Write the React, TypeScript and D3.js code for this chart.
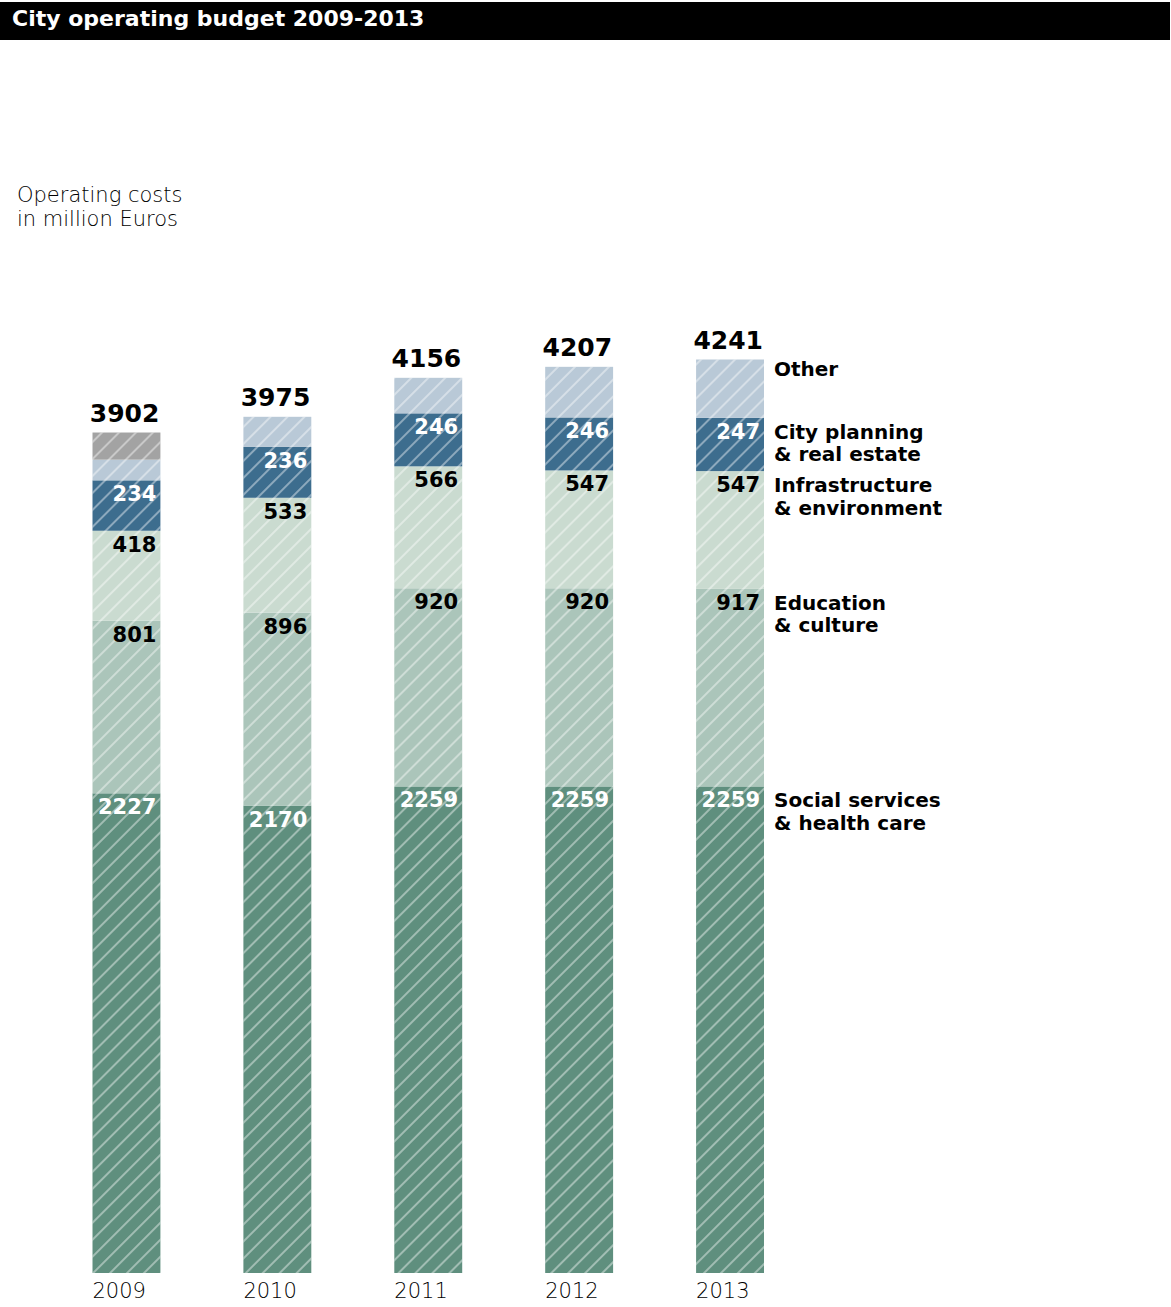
import React from "react";
import * as d3 from "d3";

const years = ["2009", "2010", "2011", "2012", "2013"];
const social = [2227, 2170, 2259, 2259, 2259];
const education = [801, 896, 920, 920, 917];
const infrastructure = [418, 533, 566, 547, 547];
const cityPlanning = [234, 236, 246, 246, 247];
const other = [96, 140, 165, 235, 271];
const otherGrey = [126, 0, 0, 0, 0];
const totals = [3902, 3975, 4156, 4207, 4241];

const seriesKeys = ["social", "education", "infrastructure", "cityPlanning", "other", "otherGrey"];
const seriesColors = ["#5f8f7e", "#abc5ba", "#cadbd0", "#3d6d8e", "#b9c9d7", "#a3a3a3"];
const labelColors = ["#ffffff", "#000000", "#000000", "#ffffff", null, null];
const legendLines = [
  ["Social services", "& health care"],
  ["Education", "& culture"],
  ["Infrastructure", "& environment"],
  ["City planning", "& real estate"],
  ["Other"],
  null,
];

const W = 1171;
const H = 1307;

export default function App() {
  const rows = years.map((y, i) => ({
    year: y,
    social: social[i],
    education: education[i],
    infrastructure: infrastructure[i],
    cityPlanning: cityPlanning[i],
    other: other[i],
    otherGrey: otherGrey[i],
  }));
  const stacked = d3.stack<any>().keys(seriesKeys)(rows);

  const x = d3.scaleBand<string>().domain(years).range([92.5, 764]).paddingInner(0.55).paddingOuter(0);
  const y = d3.scaleLinear().domain([0, 4241]).range([1273, 359.5]);
  const bw = x.bandwidth();
  const lastYear = years[years.length - 1];
  const lastIdx = years.length - 1;

  const bold = "'DejaVu Sans', sans-serif";

  return (
    <svg width={W} height={H} style={{ position: "absolute", left: 0, top: 0, background: "#fff" }}>
      <defs>
        <pattern id="hatch" patternUnits="userSpaceOnUse" width={12} height={12} patternTransform="rotate(45)">
          <line x1={6} y1={0} x2={6} y2={12} stroke="#ffffff" strokeOpacity={0.55} strokeWidth={1.5} />
        </pattern>
      </defs>
      <rect x={0} y={2} width={1170} height={38} fill="#000" />
      <text x={12} y={26} fill="#fff" fontFamily={bold} fontWeight="bold" fontSize={22}>
        City operating budget 2009-2013
      </text>
      <text x={17} y={202} fontFamily="'DejaVu Sans', sans-serif" fontWeight={200} fontSize={21} fill="#000">
        Operating costs
      </text>
      <text x={17} y={226} fontFamily="'DejaVu Sans', sans-serif" fontWeight={200} fontSize={21} fill="#000">
        in million Euros
      </text>

      {stacked.map((s, si) => (
        <g key={s.key}>
          {s.map((d, i) => {
            const yr = years[i];
            const h = y(d[0]) - y(d[1]);
            if (h <= 0) return null;
            return <rect key={yr} x={x(yr)} y={y(d[1])} width={bw} height={h} fill={seriesColors[si]} />;
          })}
        </g>
      ))}
      {years.map((yr, i) => (
        <rect key={"h" + yr} x={x(yr)} y={y(totals[i])} width={bw} height={y(0) - y(totals[i])} fill="url(#hatch)" />
      ))}

      {stacked.map((s, si) =>
        labelColors[si]
          ? s.map((d, i) => (
              <text
                key={s.key + i}
                x={(x(years[i]) as number) + bw - 4}
                y={y(d[1]) + 21}
                textAnchor="end"
                fontFamily={bold}
                fontWeight="bold"
                fontSize={21}
                fill={labelColors[si] as string}
              >
                {d[1] - d[0]}
              </text>
            ))
          : null
      )}

      {years.map((yr, i) => (
        <text
          key={"t" + yr}
          x={(x(yr) as number) + bw - 1}
          y={y(totals[i]) - 11}
          textAnchor="end"
          fontFamily={bold}
          fontWeight="bold"
          fontSize={25}
          fill="#000"
        >
          {totals[i]}
        </text>
      ))}

      {years.map((yr) => (
        <text
          key={"y" + yr}
          x={x(yr) as number}
          y={1298}
          fontFamily="'DejaVu Sans', sans-serif"
          fontWeight={200}
          fontSize={21}
          fill="#000"
        >
          {yr}
        </text>
      ))}

      {stacked.map((s, si) => {
        const lines = legendLines[si];
        if (!lines) return null;
        const d = s[lastIdx];
        const top = y(d[1]);
        const off = s.key === "other" ? 16 : 21;
        return (
          <text
            key={"l" + s.key}
            x={(x(lastYear) as number) + bw + 10}
            y={top + off}
            fontFamily={bold}
            fontWeight="bold"
            fontSize={20}
            fill="#000"
          >
            {lines.map((ln, li) => (
              <tspan key={li} x={(x(lastYear) as number) + bw + 10} dy={li === 0 ? 0 : 22.5}>
                {ln}
              </tspan>
            ))}
          </text>
        );
      })}
    </svg>
  );
}
